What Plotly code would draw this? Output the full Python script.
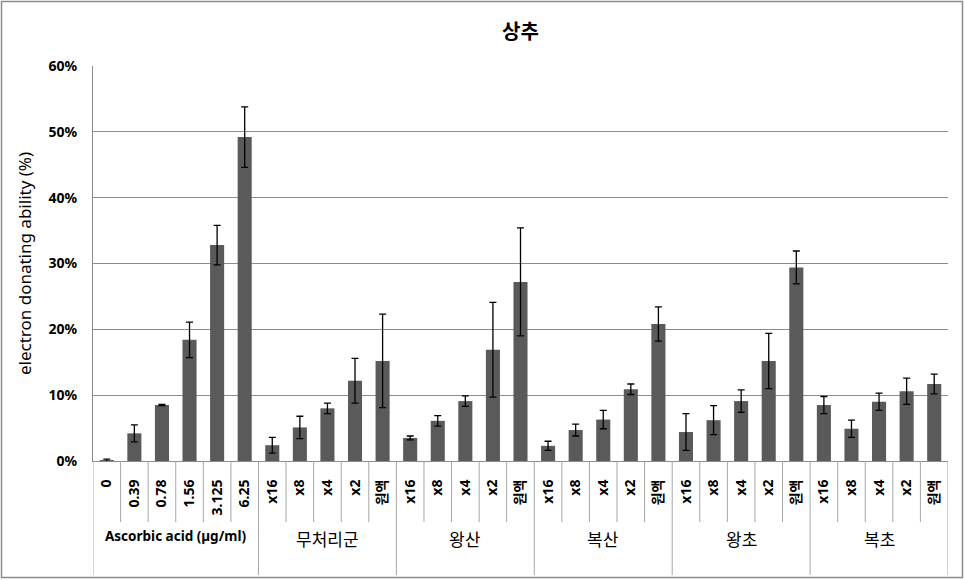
import plotly.graph_objects as go

groups = ["Ascorbic acid (µg/ml)", "무처리군", "왕산", "복산", "왕초", "복초"]
group_sizes = [6, 5, 5, 5, 5, 5]
sub_labels = ["0", "0.39", "0.78", "1.56", "3.125", "6.25"] + ["x16", "x8", "x4", "x2", "원액"] * 5
values = [0.1, 4.2, 8.5, 18.4, 32.8, 49.2,
          2.4, 5.1, 8.0, 12.2, 15.2,
          3.5, 6.1, 9.1, 16.9, 27.2,
          2.3, 4.7, 6.3, 10.9, 20.8,
          4.4, 6.2, 9.1, 15.2, 29.4,
          8.5, 4.9, 9.0, 10.6, 11.7]
errors = [0.2, 1.3, 0.1, 2.7, 3.0, 4.6,
          1.2, 1.7, 0.8, 3.4, 7.1,
          0.3, 0.8, 0.8, 7.2, 8.2,
          0.7, 0.9, 1.4, 0.8, 2.6,
          2.8, 2.2, 1.7, 4.2, 2.5,
          1.3, 1.3, 1.3, 2.0, 1.5]
y_ticks = [0, 10, 20, 30, 40, 50, 60]

W, H = 965, 580
ML, MR, MT, MB = 93, 17, 66, 119
PW, PH = W - ML - MR, H - MT - MB

keys = []
for g, n in zip(groups, group_sizes):
    for j in range(n):
        keys.append(f"{g}|{sub_labels[len(keys)]}")

FONT = "Noto Sans, Noto Sans CJK KR, sans-serif"

fig = go.Figure()
fig.add_trace(go.Bar(
    x=keys, y=[v / 100 for v in values],
    marker=dict(color="#5a5a5a", line=dict(width=0)),
    error_y=dict(type="data", array=[e / 100 for e in errors], color="black",
                 thickness=1.3, width=3.5),
    showlegend=False,
))

shapes = []
n = len(keys)
bounds = [0]
for s in group_sizes:
    bounds.append(bounds[-1] + s)
sep_short = -(522 - 461) / PH
sep_long = -(575 - 461) / PH
for i in range(n + 1):
    long = i in bounds
    shapes.append(dict(type="line", xref="x", yref="paper",
                       x0=i - 0.5, x1=i - 0.5, y0=0, y1=sep_long if long else sep_short,
                       line=dict(color="#a6a6a6", width=1)))
# outer border
shapes.append(dict(type="rect", xref="paper", yref="paper",
                   x0=-(ML - 1.5) / PW, x1=1 + (MR - 2.5) / PW,
                   y0=-(MB - 2.5) / PH, y1=1 + (MT - 1.5) / PH,
                   line=dict(color="#8c8c8c", width=1.5), fillcolor="rgba(0,0,0,0)"))

annotations = []
for k, (g, s) in enumerate(zip(groups, group_sizes)):
    center = (bounds[k] + bounds[k + 1] - 1) / 2
    if k == 0:
        annotations.append(dict(x=center, y=-(547 - 461) / PH, xref="x", yref="paper",
                                text="<b>" + g + "</b>", showarrow=False,
                                font=dict(size=13.5, color="black", family=FONT)))
    else:
        annotations.append(dict(x=center, y=-(553 - 461) / PH, xref="x", yref="paper",
                                text=g, showarrow=False,
                                font=dict(size=17, color="black", family=FONT)))

fig.update_layout(
    width=W, height=H,
    margin=dict(l=ML, r=MR, t=MT, b=MB),
    paper_bgcolor="white", plot_bgcolor="white",
    title=dict(text="<b>상추</b>", x=0.5, xref="paper", y=1 - 32 / H, yanchor="middle",
               font=dict(size=20, color="black", family=FONT)),
    bargap=0.49,
    xaxis=dict(type="category", categoryorder="array", categoryarray=keys,
               tickmode="array", tickvals=keys,
               ticktext=["<b>" + t + "</b>" for t in sub_labels],
               tickangle=-90, ticks="", ticklabelstandoff=12,
               tickfont=dict(size=14, color="black", family=FONT),
               showline=True, linecolor="#8c8c8c", linewidth=1, showgrid=False,
               range=[-0.5, n - 0.5]),
    yaxis=dict(range=[0, 0.6], tickvals=[t / 100 for t in y_ticks],
               ticktext=[f"<b>{t}%</b>" for t in y_ticks],
               tickfont=dict(size=14, color="black", family=FONT),
               showgrid=True, gridcolor="#8c8c8c", gridwidth=1,
               showline=True, linecolor="#8c8c8c", linewidth=1, zeroline=False,
               ticks="", ticklabelstandoff=12,
               title=dict(text="electron donating ability (%)", standoff=12,
                          font=dict(size=17, color="black", family=FONT))),
    shapes=shapes,
    annotations=annotations,
)

fig.write_html("out.html")
